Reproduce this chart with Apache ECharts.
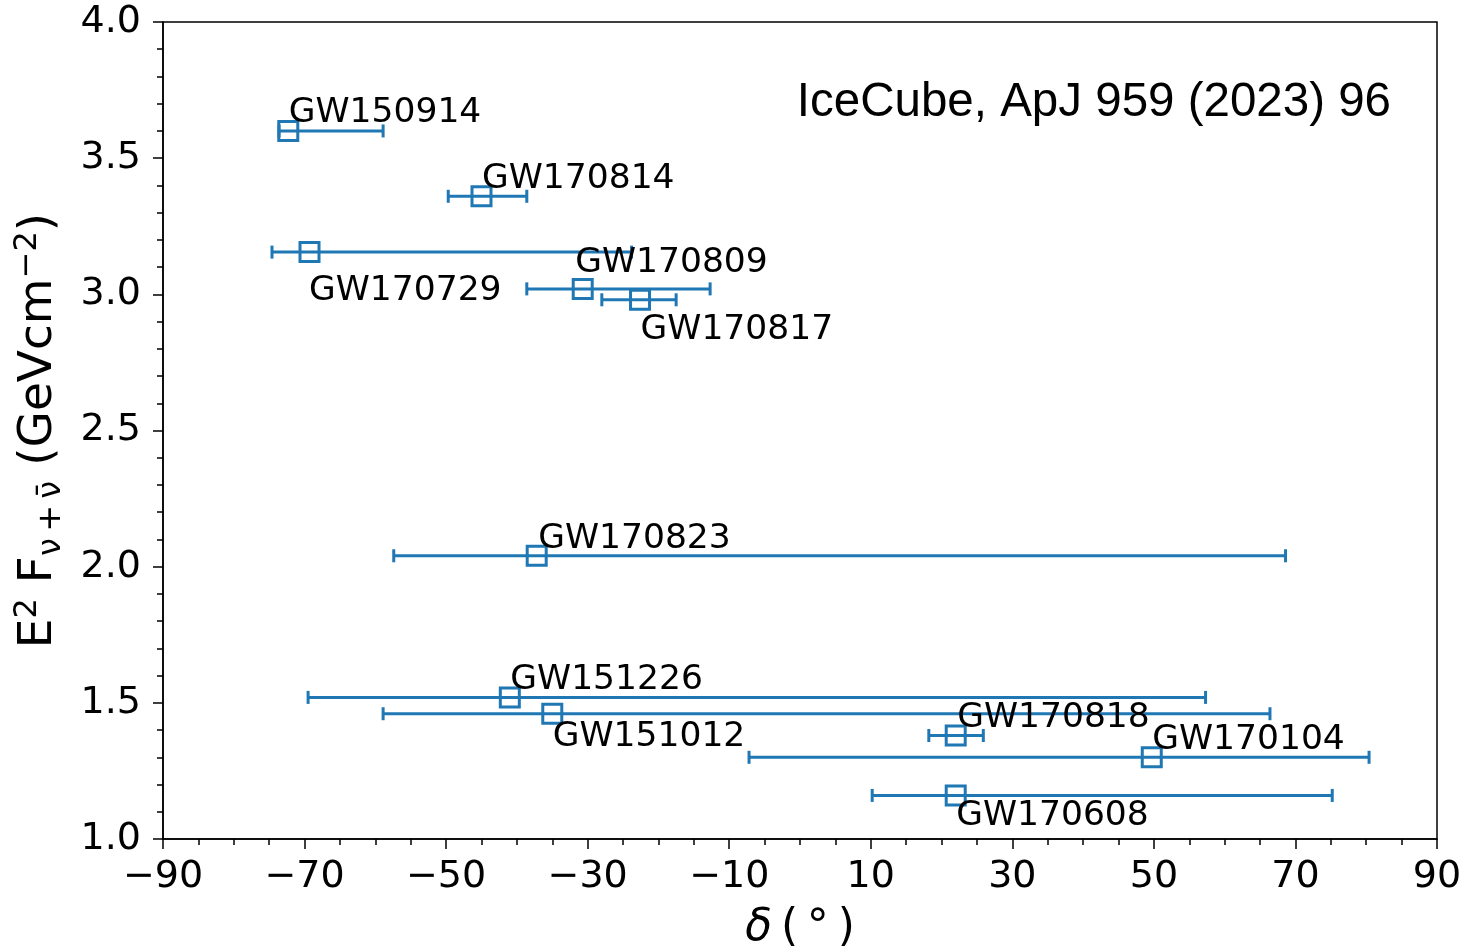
<!DOCTYPE html>
<html>
<head>
<meta charset="utf-8">
<script src="https://cdn.jsdelivr.net/npm/echarts@6/dist/echarts.min.js"></script>
<style>
html,body{margin:0;padding:0;background:#fff;}
#chart{width:1468px;height:948px;}
</style>
</head>
<body>
<div id="chart"></div>
<script>
// ---- data ----
const eventNames = ['GW150914','GW170814','GW170729','GW170809','GW170817','GW170823','GW151226','GW151012','GW170818','GW170104','GW170608'];
const declination = [-72.3,-45.0,-69.3,-30.7,-22.6,-37.2,-41.0,-35.0,22.0,49.7,22.0];
const fluxE2 = [3.60,3.36,3.155,3.02,2.98,2.04,1.52,1.46,1.38,1.30,1.16];
const declLow = [-73.6,-49.7,-74.6,-38.6,-28.0,-57.4,-69.5,-58.9,18.2,-7.2,10.2];
const declHigh = [-58.9,-38.6,-23.8,-12.7,-17.5,68.6,57.3,66.4,25.9,80.4,75.2];
const xTickLabels = [-90,-70,-50,-30,-10,10,30,50,70,90];
const yTickStep = 0.5;

// ---- style: label placement (pixel offset of text left edge / baseline from marker centre) ----
const labelOffsets = [[2,-8],[2,-8],[1,48],[-6,-16],[2,40],[3,-7],[2,-8],[2,33],[3,-8],[2,-8],[2,30]];

const BLUE = '#1f77b4';
const SYM = 19;
const chart = echarts.init(document.getElementById('chart'), null, {renderer:'canvas'});

const minus = v => (v < 0 ? '\u2212' + Math.abs(v) : String(v));

const scatterData = eventNames.map((n, i) => ({
  value: [declination[i], fluxE2[i]],
  label: {
    show: true,
    formatter: n,
    position: [SYM/2 + labelOffsets[i][0], SYM/2 + labelOffsets[i][1] - 8],
    align: 'left',
    verticalAlign: 'middle',
    color: '#000'
  }
}));

const errData = eventNames.map((n, i) => [declination[i], fluxE2[i], declLow[i], declHigh[i]]);

const axisLineStyle = {color:'#000', width:1.5};

const option = {
  animation: false,
  backgroundColor: '#fff',
  grid: {left:163, right:31, top:22, bottom:109, containLabel:false, outerBoundsMode:'none',
         show:true, borderColor:'#000', borderWidth:1.5, backgroundColor:'transparent'},
  xAxis: [
    {
      type:'value', min:-90, max:90, interval:10, position:'bottom',
      axisLine:{show:true, onZero:false, lineStyle:axisLineStyle},
      axisTick:{show:true, customValues:xTickLabels, length:10, lineStyle:axisLineStyle},
      axisLabel:{show:true, customValues:xTickLabels, formatter:minus, fontSize:38, fontFamily:'DejaVu Sans', color:'#000', margin:19},
      splitLine:{show:false},
      name:'{it|δ}{n|\u2009(\u2009°\u2009)}', nameLocation:'middle', nameGap:68,
      nameTextStyle:{rich:{it:{fontSize:44, fontStyle:'italic', fontFamily:'DejaVu Sans', color:'#000'}, n:{fontSize:44, fontFamily:'DejaVu Sans', color:'#000'}}}
    },
    {
      type:'value', min:-90, max:90, interval:5, position:'bottom',
      axisLine:{show:false, onZero:false},
      axisTick:{show:true, length:6, lineStyle:axisLineStyle},
      axisLabel:{show:false},
      splitLine:{show:false}
    }
  ],
  yAxis: {
    type:'value', min:1, max:4, interval:yTickStep,
    axisLine:{show:true, onZero:false, lineStyle:axisLineStyle},
    axisTick:{show:true, length:10, lineStyle:axisLineStyle},
    minorTick:{show:true, splitNumber:5, length:6, lineStyle:axisLineStyle},
    axisLabel:{formatter: v => v.toFixed(1), fontSize:38, fontFamily:'DejaVu Sans', color:'#000', margin:22},
    splitLine:{show:false}, minorSplitLine:{show:false},
    name:'{m|E}{sup|2}{m| F}{sub|ν\u2009+\u2009ν\u0304}{m| (GeVcm}{sup|\u22122}{m|)}',
    nameLocation:'middle', nameGap:90, nameRotate:90,
    nameTextStyle:{rich:{
      m:{fontSize:47, fontFamily:'DejaVu Sans', color:'#000', lineHeight:62, verticalAlign:'middle'},
      sup:{fontSize:32, fontFamily:'DejaVu Sans', color:'#000', lineHeight:62, verticalAlign:'top', padding:[4,0,0,0]},
      sub:{fontSize:32, fontFamily:'DejaVu Sans', color:'#000', lineHeight:62, verticalAlign:'bottom', padding:[0,0,2,0]}
    }}
  },
  graphic: [{
    type:'text', right:77, top:79,
    style:{text:'IceCube, ApJ 959 (2023) 96', font:'47.5px "Liberation Sans"', fill:'#000'}
  }],
  series: [
    {
      type:'custom', xAxisIndex:0, yAxisIndex:0, silent:true,
      encode:{x:[0,2,3], y:1},
      data: errData,
      renderItem: function(params, api){
        const y = api.value(1);
        const lo = api.coord([api.value(2), y]);
        const hi = api.coord([api.value(3), y]);
        const h = 6.5;
        const st = {stroke:BLUE, lineWidth:3, fill:null};
        return {type:'group', children:[
          {type:'line', shape:{x1:lo[0], y1:lo[1], x2:hi[0], y2:hi[1]}, style:st},
          {type:'line', shape:{x1:lo[0], y1:lo[1]-h, x2:lo[0], y2:lo[1]+h}, style:st},
          {type:'line', shape:{x1:hi[0], y1:hi[1]-h, x2:hi[0], y2:hi[1]+h}, style:st}
        ]};
      },
      z: 2
    },
    {
      type:'scatter', xAxisIndex:0, yAxisIndex:0, silent:true,
      symbol:'rect', symbolSize:SYM,
      itemStyle:{color:'rgba(255,255,255,0)', borderColor:BLUE, borderWidth:3, opacity:1},
      label:{fontSize:34.5, fontFamily:'DejaVu Sans', color:'#000'},
      data: scatterData,
      z: 3
    }
  ]
};
chart.setOption(option);
</script>
</body>
</html>
